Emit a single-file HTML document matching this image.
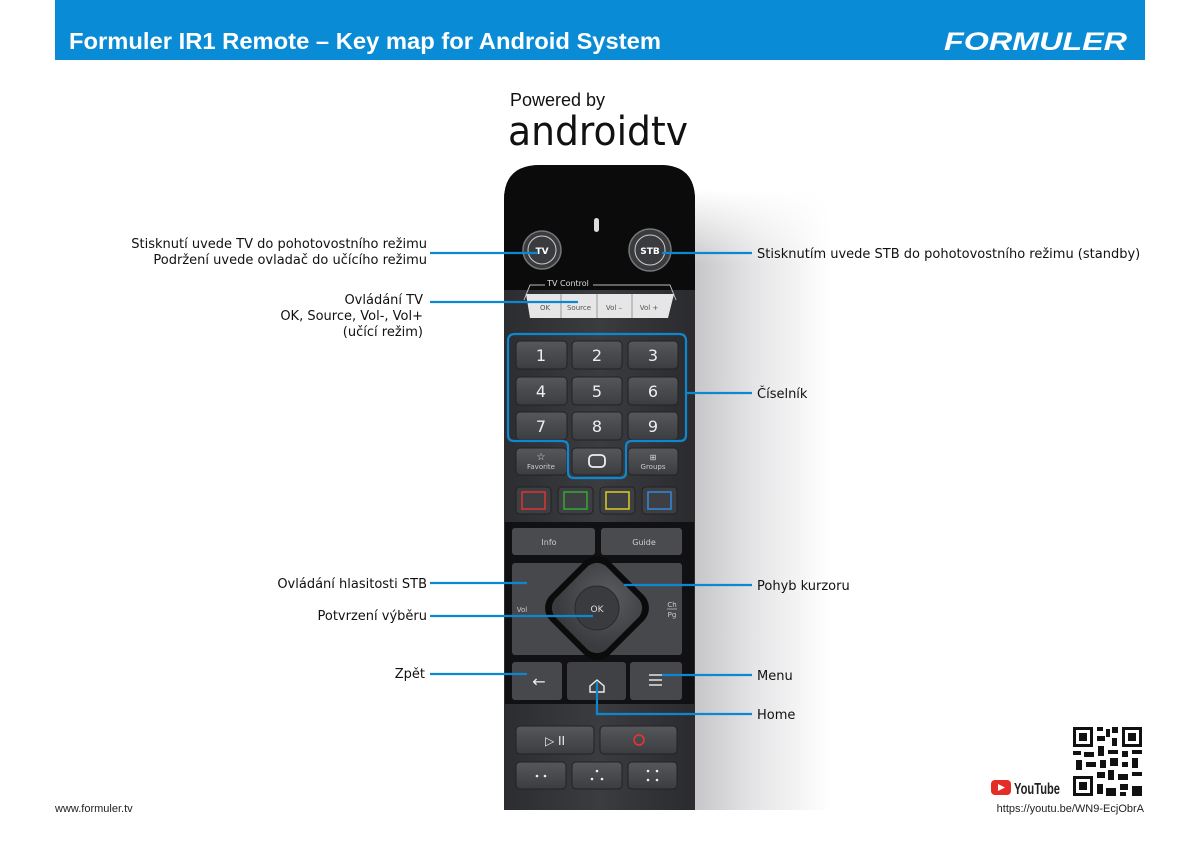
<!DOCTYPE html>
<html><head><meta charset="utf-8"><style>
html,body{margin:0;padding:0;background:#fff;}
svg{display:block}
text{font-family:"DejaVu Sans","Liberation Sans",sans-serif;}
</style></head><body>
<svg width="1200" height="848" viewBox="0 0 1200 848" xmlns="http://www.w3.org/2000/svg">
<defs>
<linearGradient id="shadow" x1="0" x2="1" y1="0" y2="0">
<stop offset="0" stop-color="#c4c4c6"/><stop offset="0.45" stop-color="#e4e4e6"/><stop offset="1" stop-color="#fff"/>
</linearGradient>
<linearGradient id="shv" x1="0" x2="0" y1="0" y2="1">
<stop offset="0" stop-color="#fff"/><stop offset="0.12" stop-color="#fff" stop-opacity="0"/><stop offset="1" stop-color="#fff" stop-opacity="0"/>
</linearGradient>
<linearGradient id="body" x1="0" x2="1"><stop offset="0" stop-color="#2c2d30"/><stop offset="0.5" stop-color="#3b3c40"/><stop offset="1" stop-color="#2a2b2e"/></linearGradient>
<linearGradient id="key" x1="0" x2="0" y1="0" y2="1"><stop offset="0" stop-color="#56575b"/><stop offset="1" stop-color="#3c3d40"/></linearGradient>
<radialGradient id="dia" cx="0.5" cy="0.3" r="0.7"><stop offset="0" stop-color="#5c5d61"/><stop offset="1" stop-color="#3a3b3e"/></radialGradient>
</defs>
<!-- header -->
<rect x="55" y="0" width="1090" height="60" fill="#0a8bd6"/>
<text x="69" y="49" font-weight="bold" font-size="23" fill="#fff" textLength="592" lengthAdjust="spacingAndGlyphs" style="font-family:'Liberation Sans',sans-serif">Formuler IR1 Remote – Key map for Android System</text>
<text x="944" y="50" font-weight="bold" font-style="italic" font-size="25" fill="#fff" textLength="183" lengthAdjust="spacingAndGlyphs" style="font-family:'Liberation Sans',sans-serif">FORMULER</text>
<!-- powered by -->
<text x="510" y="106" font-size="18" fill="#111" style="font-family:'Liberation Sans',sans-serif">Powered by</text>
<text x="508" y="145" font-size="40" fill="#111" textLength="180" lengthAdjust="spacingAndGlyphs" style="font-family:'DejaVu Sans',sans-serif">androidtv</text>
<!-- shadow -->
<rect x="690" y="190" width="140" height="620" fill="url(#shadow)"/>
<rect x="690" y="190" width="140" height="620" fill="url(#shv)"/>
<!-- remote body -->
<path d="M504,200 Q504,165 540,165 L660,165 Q695,165 695,200 L695,810 L504,810 Z" fill="url(#body)"/>
<path d="M504,200 Q504,165 540,165 L660,165 Q695,165 695,200 L695,290 L504,290 Z" fill="#0b0b0c"/>
<rect x="594" y="218" width="5" height="14" rx="2.5" fill="#ddd"/>
<!-- TV / STB buttons -->
<circle cx="542" cy="250" r="19" fill="#3a3b3e" stroke="#777" stroke-width="1.5"/>
<circle cx="542" cy="250" r="14" fill="none" stroke="#ccc" stroke-width="1"/>
<text x="542" y="254" font-size="9" fill="#fff" text-anchor="middle" font-weight="bold">TV</text>
<circle cx="650" cy="250" r="21" fill="#3a3b3e" stroke="#777" stroke-width="1.5"/>
<circle cx="650" cy="250" r="15" fill="none" stroke="#ccc" stroke-width="1"/>
<text x="650" y="254" font-size="9" fill="#fff" text-anchor="middle" font-weight="bold">STB</text>
<!-- TV control -->
<path d="M524,300 L530,285 L670,285 L676,300" fill="none" stroke="#bbb" stroke-width="1"/>
<rect x="545" y="278" width="48" height="10" fill="#0b0b0c"/>
<text x="568" y="286" font-size="8" fill="#ddd" text-anchor="middle">TV Control</text>
<path d="M526,294 L674,294 L668,318 L530,318 Z" fill="#e6e6e6"/>
<line x1="561" y1="294" x2="561" y2="318" stroke="#999"/><line x1="597" y1="294" x2="597" y2="318" stroke="#999"/><line x1="632" y1="294" x2="632" y2="318" stroke="#999"/>
<text x="545" y="310" font-size="7" fill="#555" text-anchor="middle">OK</text>
<text x="579" y="310" font-size="7" fill="#555" text-anchor="middle">Source</text>
<text x="614" y="310" font-size="7" fill="#555" text-anchor="middle">Vol –</text>
<text x="649" y="310" font-size="7" fill="#555" text-anchor="middle">Vol +</text>
<!-- number keys -->
<g fill="url(#key)" stroke="#222" stroke-width="1">
<rect x="516" y="341" width="51" height="28" rx="4"/><rect x="572" y="341" width="50" height="28" rx="4"/><rect x="628" y="341" width="50" height="28" rx="4"/>
<rect x="516" y="377" width="51" height="28" rx="4"/><rect x="572" y="377" width="50" height="28" rx="4"/><rect x="628" y="377" width="50" height="28" rx="4"/>
<rect x="516" y="412" width="51" height="28" rx="4"/><rect x="572" y="412" width="50" height="28" rx="4"/><rect x="628" y="412" width="50" height="28" rx="4"/>
<rect x="516" y="448" width="51" height="27" rx="4"/><rect x="572" y="448" width="50" height="27" rx="4"/><rect x="628" y="448" width="50" height="27" rx="4"/>
</g>
<g font-size="16" fill="#eee" text-anchor="middle" style="font-family:'Liberation Sans',sans-serif">
<text x="541" y="361">1</text><text x="597" y="361">2</text><text x="653" y="361">3</text>
<text x="541" y="397">4</text><text x="597" y="397">5</text><text x="653" y="397">6</text>
<text x="541" y="432">7</text><text x="597" y="432">8</text><text x="653" y="432">9</text>
</g>
<rect x="589" y="455" width="16" height="12" rx="4" fill="none" stroke="#eee" stroke-width="1.8"/>
<text x="541" y="460" font-size="10" fill="#ddd" text-anchor="middle">☆</text>
<text x="541" y="469" font-size="7" fill="#ccc" text-anchor="middle">Favorite</text>
<text x="653" y="460" font-size="8" fill="#ddd" text-anchor="middle">⊞</text>
<text x="653" y="469" font-size="7" fill="#ccc" text-anchor="middle">Groups</text>
<!-- color keys -->
<g fill="#3e3f42" stroke="#222">
<rect x="516" y="487" width="35" height="27" rx="4"/><rect x="558" y="487" width="35" height="27" rx="4"/><rect x="600" y="487" width="35" height="27" rx="4"/><rect x="642" y="487" width="35" height="27" rx="4"/>
</g>
<rect x="522" y="492" width="23" height="17" fill="none" stroke="#d33" stroke-width="1.5"/>
<rect x="564" y="492" width="23" height="17" fill="none" stroke="#3a3" stroke-width="1.5"/>
<rect x="606" y="492" width="23" height="17" fill="none" stroke="#dc2" stroke-width="1.5"/>
<rect x="648" y="492" width="23" height="17" fill="none" stroke="#38d" stroke-width="1.5"/>
<!-- nav section -->
<rect x="505" y="522" width="189" height="182" fill="#111113"/>
<rect x="512" y="528" width="83" height="27" rx="3" fill="#4a4b4f"/>
<rect x="601" y="528" width="81" height="27" rx="3" fill="#4a4b4f"/>
<text x="549" y="545" font-size="8" fill="#ccc" text-anchor="middle">Info</text>
<text x="644" y="545" font-size="8" fill="#ccc" text-anchor="middle">Guide</text>
<rect x="512" y="563" width="78" height="92" rx="3" fill="#47484c"/>
<rect x="606" y="563" width="76" height="92" rx="3" fill="#47484c"/>
<text x="522" y="612" font-size="7" fill="#ccc" text-anchor="middle">Vol</text>
<text x="672" y="607" font-size="7" fill="#ccc" text-anchor="middle">Ch</text>
<line x1="667" y1="609" x2="677" y2="609" stroke="#ccc" stroke-width="0.7"/>
<text x="672" y="617" font-size="7" fill="#ccc" text-anchor="middle">Pg</text>
<rect x="555" y="566" width="84" height="84" rx="18" transform="rotate(45 597 608)" fill="#0b0b0c"/>
<rect x="561" y="572" width="72" height="72" rx="14" transform="rotate(45 597 608)" fill="url(#dia)"/>
<circle cx="597" cy="608" r="22" fill="#3a3b3e" stroke="#2a2a2c"/>
<text x="597" y="612" font-size="9" fill="#ddd" text-anchor="middle">OK</text>
<rect x="512" y="662" width="50" height="38" rx="3" fill="#47484c"/>
<rect x="567" y="662" width="59" height="38" rx="3" fill="#404145"/>
<rect x="630" y="662" width="52" height="38" rx="3" fill="#47484c"/>
<text x="539" y="687" font-size="16" fill="#eee" text-anchor="middle">←</text>
<path d="M590,686 L597,680 L604,686 L604,692 L590,692 Z" fill="none" stroke="#eee" stroke-width="1.4"/>
<g stroke="#eee" stroke-width="1.4"><line x1="649" y1="675" x2="662" y2="675"/><line x1="649" y1="680" x2="662" y2="680"/><line x1="649" y1="685" x2="662" y2="685"/></g>
<!-- bottom keys -->
<g fill="url(#key)" stroke="#222">
<rect x="516" y="726" width="78" height="28" rx="4"/><rect x="600" y="726" width="77" height="28" rx="4"/>
<rect x="516" y="762" width="50" height="27" rx="4"/><rect x="572" y="762" width="50" height="27" rx="4"/><rect x="628" y="762" width="49" height="27" rx="4"/>
</g>
<text x="555" y="745" font-size="12" fill="#eee" text-anchor="middle">▷ II</text>
<circle cx="639" cy="740" r="5" fill="none" stroke="#e33" stroke-width="1.5"/>
<g fill="#eee"><circle cx="537" cy="776" r="1.3"/><circle cx="545" cy="776" r="1.3"/>
<circle cx="597" cy="771" r="1.3"/><circle cx="592" cy="779" r="1.3"/><circle cx="602" cy="779" r="1.3"/>
<circle cx="648" cy="771" r="1.3"/><circle cx="657" cy="771" r="1.3"/><circle cx="648" cy="780" r="1.3"/><circle cx="657" cy="780" r="1.3"/></g>
<!-- blue callouts -->
<g stroke="#0f86d0" stroke-width="2.2" fill="none">
<path d="M508,341 Q508,334 515,334 L679,334 Q686,334 686,341 L686,435 Q686,441 680,441 L632,441 Q626,441 626,447 L626,472 Q626,478 620,478 L574,478 Q568,478 568,472 L568,447 Q568,441 562,441 L514,441 Q508,441 508,435 Z"/>
<line x1="430" y1="253" x2="538" y2="253"/>
<line x1="662" y1="253" x2="752" y2="253"/>
<line x1="430" y1="302" x2="578" y2="302"/>
<line x1="686" y1="393" x2="752" y2="393"/>
<line x1="430" y1="583" x2="527" y2="583"/>
<line x1="624" y1="585" x2="752" y2="585"/>
<line x1="430" y1="616" x2="593" y2="616"/>
<line x1="430" y1="674" x2="527" y2="674"/>
<line x1="662" y1="675" x2="752" y2="675"/>
<path d="M597,682 L597,714 L752,714"/>
</g>
<!-- labels -->
<g font-size="13" fill="#111">
<g text-anchor="end">
<text x="427" y="248">Stisknutí uvede TV do pohotovostního režimu</text>
<text x="427" y="264">Podržení uvede ovladač do učícího režimu</text>
<text x="423" y="304">Ovládání TV</text>
<text x="423" y="320">OK, Source, Vol-, Vol+</text>
<text x="423" y="336">(učící režim)</text>
<text x="427" y="588">Ovládání hlasitosti STB</text>
<text x="427" y="620">Potvrzení výběru</text>
<text x="425" y="678">Zpět</text>
</g>
<text x="757" y="258">Stisknutím uvede STB do pohotovostního režimu (standby)</text>
<text x="757" y="398">Číselník</text>
<text x="757" y="590">Pohyb kurzoru</text>
<text x="757" y="680">Menu</text>
<text x="757" y="719">Home</text>
</g>
<text x="55" y="812" font-size="11" fill="#222" style="font-family:'Liberation Sans',sans-serif">www.formuler.tv</text>
<text x="1144" y="812" font-size="11" fill="#222" text-anchor="end" style="font-family:'Liberation Sans',sans-serif">https://youtu.be/WN9-EcjObrA</text>
<!-- youtube -->
<rect x="991" y="780" width="20" height="15" rx="4" fill="#e52d27"/>
<path d="M998,784 L1005,787.5 L998,791 Z" fill="#fff"/>
<text x="1014" y="794" font-size="16" font-weight="bold" fill="#222" textLength="46" lengthAdjust="spacingAndGlyphs" style="font-family:'Liberation Sans',sans-serif">YouTube</text>
<!-- QR -->
<g fill="#111">
<rect x="1073" y="727" width="20" height="20"/><rect x="1122" y="727" width="20" height="20"/><rect x="1073" y="776" width="20" height="20"/>
</g>
<g fill="#fff"><rect x="1076" y="730" width="14" height="14"/><rect x="1125" y="730" width="14" height="14"/><rect x="1076" y="779" width="14" height="14"/></g>
<g fill="#111"><rect x="1079" y="733" width="8" height="8"/><rect x="1128" y="733" width="8" height="8"/><rect x="1079" y="782" width="8" height="8"/>
<rect x="1097" y="727" width="6" height="4"/><rect x="1106" y="729" width="4" height="8"/><rect x="1112" y="727" width="6" height="6"/><rect x="1097" y="736" width="8" height="5"/><rect x="1112" y="738" width="5" height="8"/>
<rect x="1073" y="751" width="8" height="4"/><rect x="1084" y="752" width="10" height="5"/><rect x="1098" y="746" width="6" height="10"/><rect x="1108" y="750" width="10" height="4"/><rect x="1122" y="751" width="6" height="6"/><rect x="1132" y="750" width="10" height="4"/>
<rect x="1076" y="760" width="6" height="10"/><rect x="1086" y="762" width="10" height="5"/><rect x="1100" y="760" width="6" height="8"/><rect x="1110" y="758" width="8" height="8"/><rect x="1122" y="762" width="6" height="5"/><rect x="1132" y="758" width="6" height="10"/>
<rect x="1097" y="772" width="8" height="6"/><rect x="1108" y="770" width="6" height="10"/><rect x="1118" y="774" width="10" height="6"/><rect x="1132" y="772" width="10" height="4"/>
<rect x="1097" y="784" width="6" height="10"/><rect x="1106" y="788" width="10" height="8"/><rect x="1120" y="784" width="8" height="6"/><rect x="1132" y="786" width="10" height="10"/><rect x="1120" y="792" width="6" height="4"/></g>
</svg>
</body></html>
